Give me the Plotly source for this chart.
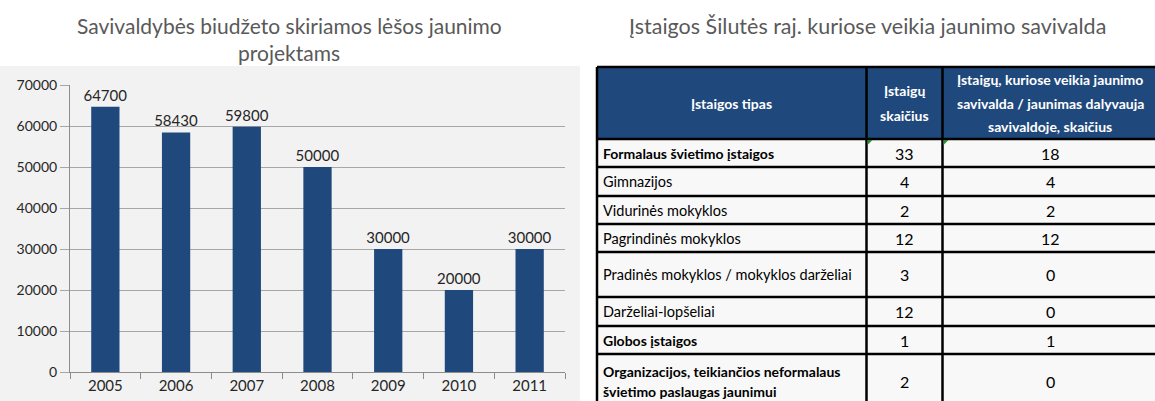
import plotly.graph_objects as go

# ---------------- data ----------------
years = ["2005", "2006", "2007", "2008", "2009", "2010", "2011"]
funds = [64700, 58430, 59800, 50000, 30000, 20000, 30000]

chart_title = ["Savivaldybės biudžeto skiriamos lėšos jaunimo", "projektams"]
table_title = "Įstaigos Šilutės raj. kuriose veikia jaunimo savivalda"

header = [["Įstaigos tipas"],
          ["Įstaigų", "skaičius"],
          ["Įstaigų, kuriose veikia jaunimo", "savivalda / jaunimas dalyvauja", "savivaldoje, skaičius"]]
types = [["Formalaus švietimo įstaigos"], ["Gimnazijos"], ["Vidurinės mokyklos"],
         ["Pagrindinės mokyklos"], ["Pradinės mokyklos / mokyklos darželiai"],
         ["Darželiai-lopšeliai"], ["Globos įstaigos"],
         ["Organizacijos, teikiančios neformalaus", "švietimo paslaugas jaunimui"]]
counts = [33, 4, 2, 12, 3, 12, 1, 2]
youth_counts = [18, 4, 2, 12, 0, 0, 1, 0]
bold_rows = [True, False, False, False, False, False, True, True]

# ---------------- layout constants (pixels) ----------------
W, H = 1155, 401
FONT = "Lato, Carlito, Calibri, sans-serif"
BLUE = "#1F497D"
TXT = "#262626"

def px(x):
    return x / W

def py(y):
    return 1 - y / H

col_x = [597, 866.5, 942.5, 1160]
col_cx = [731, 904.5, 1050]
row_y = [67, 139, 167, 196, 224, 252, 297, 326, 354, 412]
LINE_H = 24  # spacing of multi-line header text

fig = go.Figure()

fig.add_trace(go.Bar(
    x=years, y=funds, marker=dict(color=BLUE, line=dict(width=0)),
    text=[str(v) for v in funds], textposition="outside", constraintext="none",
    textfont=dict(family=FONT, size=15, color=TXT),
    cliponaxis=False, width=0.4, hoverinfo="skip"))

shapes = []
annotations = []

def label(text, x, y, size, color, anchor="center", bold=False):
    if bold:
        text = "<b>" + text + "</b>"
    annotations.append(dict(text=text, xref="paper", yref="paper",
                            x=px(x), y=py(y), showarrow=False,
                            font=dict(family=FONT, size=size, color=color),
                            xanchor=anchor, yanchor="middle"))

# gray chart panel
shapes.append(dict(type="rect", xref="paper", yref="paper",
                   x0=px(0), x1=px(580), y0=py(66), y1=py(405),
                   fillcolor="#F2F2F2", line=dict(width=0), layer="below"))

# titles
label(chart_title[0], 289, 25, 21, "#595959")
label(chart_title[1], 289, 52, 21, "#595959")
label(table_title, 867, 26, 21.5, "#595959")

# table body background
shapes.append(dict(type="rect", xref="paper", yref="paper",
                   x0=px(col_x[0]), x1=px(col_x[-1]), y0=py(row_y[1]), y1=py(row_y[-1]),
                   fillcolor="#F8F8F8", line=dict(width=0)))
# table header background
shapes.append(dict(type="rect", xref="paper", yref="paper",
                   x0=px(col_x[0]), x1=px(col_x[-1]), y0=py(row_y[0]), y1=py(row_y[1]),
                   fillcolor=BLUE, line=dict(width=0)))
# header text
hc = (row_y[0] + row_y[1]) / 2
for i, lines in enumerate(header):
    n = len(lines)
    for k, ln in enumerate(lines):
        label(ln, col_cx[i], hc + (k - (n - 1) / 2) * LINE_H, 14, "white", bold=True)

# grid lines
for y in row_y[:-1]:
    shapes.append(dict(type="line", xref="paper", yref="paper",
                       x0=px(col_x[0]), x1=px(col_x[-1]), y0=py(y), y1=py(y),
                       line=dict(color="black", width=2.5)))
for x in col_x[:-1]:
    shapes.append(dict(type="line", xref="paper", yref="paper",
                       x0=px(x), x1=px(x), y0=py(row_y[0]), y1=py(row_y[-1]),
                       line=dict(color="black", width=2.5)))

# green indicators
for x in (col_x[1], col_x[2]):
    shapes.append(dict(type="path", xref="paper", yref="paper",
                       path=f"M {px(x+1)},{py(row_y[1]+1)} L {px(x+6)},{py(row_y[1]+1)} L {px(x+1)},{py(row_y[1]+6)} Z",
                       fillcolor="#2E8B2E", line=dict(width=0)))

# body text
for r, lines in enumerate(types):
    top, bot = row_y[r + 1], row_y[r + 2]
    if r == len(types) - 1:
        bot = 409
    yc = (top + bot) / 2
    n = len(lines)
    for k, ln in enumerate(lines):
        label(ln, col_x[0] + 4, yc + (k - (n - 1) / 2) * 20, 14 if bold_rows[r] else 14.5, "black",
              anchor="left", bold=bold_rows[r])
    label(str(counts[r]), col_cx[1], yc, 16, "black")
    label(str(youth_counts[r]), col_cx[2], yc, 16, "black")

fig.update_layout(
    width=W, height=H, margin=dict(l=0, r=0, t=0, b=0, autoexpand=False),
    paper_bgcolor="white", plot_bgcolor="rgba(0,0,0,0)",
    showlegend=False, shapes=shapes, annotations=annotations,
    font=dict(family=FONT, size=15, color=TXT),
    xaxis=dict(domain=[px(70), px(565)], type="category", automargin=False,
               showline=True, linecolor="#8C8C8C", linewidth=1,
               ticks="outside", tickson="boundaries", ticklen=6, tickcolor="#8C8C8C",
               tickfont=dict(family=FONT, size=15, color=TXT),
               showgrid=False, fixedrange=True),
    yaxis=dict(domain=[py(372), py(85)], range=[0, 70000], automargin=False,
               tickvals=[0, 10000, 20000, 30000, 40000, 50000, 60000, 70000],
               showline=True, linecolor="#8C8C8C", linewidth=1,
               ticks="outside", ticklen=9, tickcolor="#A6A6A6",
               gridcolor="#A6A6A6", gridwidth=1, zeroline=False,
               tickfont=dict(family=FONT, size=14, color=TXT),
               tickformat="d", fixedrange=True),
)

fig.write_html("out.html", config={"displayModeBar": False, "staticPlot": True},
               post_script="document.body.style.margin='0px';document.body.style.overflow='hidden';")
